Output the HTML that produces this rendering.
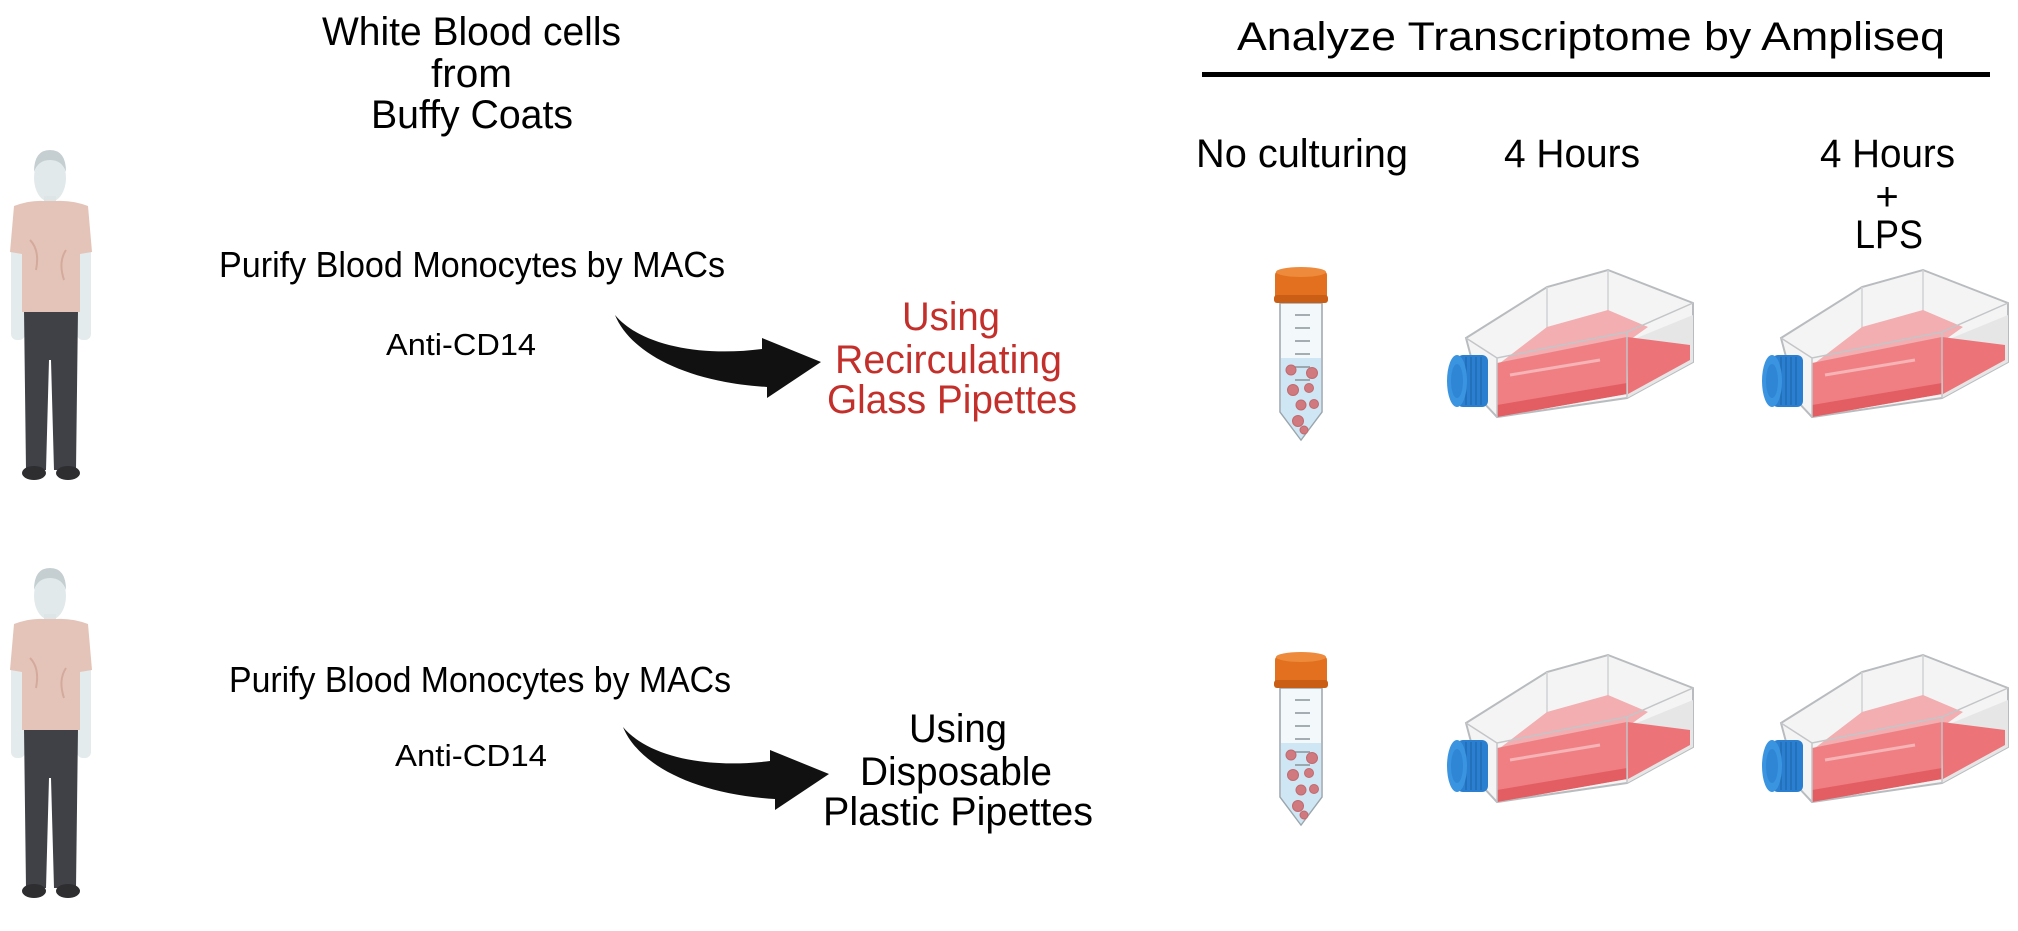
<!DOCTYPE html>
<html><head><meta charset="utf-8"><style>
html,body{margin:0;padding:0;background:#fff;}
svg{display:block;}
text{font-family:"Liberation Sans",sans-serif;}
</style></head><body>
<svg width="2018" height="931" viewBox="0 0 2018 931" xmlns="http://www.w3.org/2000/svg">
<defs>
 <g id="person">
  <ellipse cx="50" cy="178" rx="16" ry="24" fill="#e2e9eb"/>
  <path d="M34,172 Q34,150 50,150 Q66,150 66,172 Q62,160 50,160 Q38,160 34,172Z" fill="#c5cfd2"/>
  <rect x="44" y="196" width="12" height="10" fill="#dde5e7"/>
  <rect x="11" y="240" width="14" height="100" rx="6" fill="#e4ebed"/>
  <rect x="77" y="240" width="14" height="100" rx="6" fill="#e4ebed"/>
  <path d="M24,310 L78,310 L76,470 L54,470 L51,360 L49,360 L46,470 L26,470Z" fill="#3f4147"/>
  <path d="M14,206 Q30,200 44,201 L56,201 Q72,200 88,206 L92,252 L80,254 L80,312 L22,312 L22,254 L10,252Z" fill="#e4c4b8"/>
  <path d="M30,240 Q40,250 36,270 M66,250 Q58,262 64,280" stroke="#d4aa9c" stroke-width="2" fill="none"/>
  <ellipse cx="34" cy="473" rx="12" ry="7" fill="#2e2e30"/>
  <ellipse cx="68" cy="473" rx="12" ry="7" fill="#2e2e30"/>
 </g>
 <g id="tube">
  <path d="M1280,688 L1322,688 L1322,797 L1301,825 L1280,797Z" fill="#f3f8fb" stroke="#9aa6ad" stroke-width="1.5"/>
  <path d="M1281,743 L1321,743 L1321,797 L1301,824 L1281,797Z" fill="#cfe6f4"/>
  <g stroke="#8a949a" stroke-width="1.5">
   <line x1="1295" y1="700" x2="1310" y2="700"/><line x1="1295" y1="713" x2="1310" y2="713"/>
   <line x1="1295" y1="726" x2="1310" y2="726"/><line x1="1295" y1="739" x2="1310" y2="739"/>
   <line x1="1295" y1="752" x2="1310" y2="752"/><line x1="1295" y1="765" x2="1310" y2="765"/>
  </g>
  <g fill="#d07a80" stroke="#c06a70" stroke-width="1">
   <circle cx="1291" cy="755" r="5"/><circle cx="1312" cy="758" r="5.5"/>
   <circle cx="1293" cy="775" r="5.5"/><circle cx="1309" cy="773" r="4.5"/>
   <circle cx="1301" cy="790" r="5"/><circle cx="1314" cy="789" r="4.5"/>
   <circle cx="1298" cy="806" r="5.5"/><circle cx="1304" cy="815" r="4"/>
  </g>
  <rect x="1275" y="656" width="52" height="32" rx="4" fill="#e2701e"/>
  <ellipse cx="1301" cy="657" rx="25" ry="5" fill="#ee8a3c"/>
  <rect x="1274" y="680" width="54" height="8" rx="3" fill="#c95e14"/>
 </g>
 <g id="flask">
  <path d="M1466,723 L1547,672 L1608,655 L1693,688 L1693,747 L1627,783 L1497,802 L1483,787Z" fill="#f4f4f4" stroke="#b9bcbf" stroke-width="2"/>
  <path d="M1547,672 L1547,717 M1608,655 L1608,698" stroke="#cfd1d3" stroke-width="1.5" fill="none"/>
  <path d="M1627,727 L1693,700 L1693,747 L1627,783Z" fill="#e6e6e6"/>
  <path d="M1500,748 L1547,712 L1608,695 L1648,712 L1627,727Z" fill="#f2aeb0"/>
  <path d="M1627,722 L1690,730 L1690,745 L1628,779Z" fill="#ec7377"/>
  <path d="M1497,748 L1627,722 L1627,779 L1497,802Z" fill="#ef7f83"/>
  <path d="M1497,790 L1627,768 L1627,779 L1497,802Z" fill="#e35e63"/>
  <path d="M1510,760 L1600,745" stroke="#f6b4b6" stroke-width="3"/>
  <path d="M1466,723 L1497,743 L1627,717 L1693,688 M1627,717 L1627,783 M1497,743 L1497,802" stroke="#c3c5c8" stroke-width="1.5" fill="none"/>
  <rect x="1457" y="740" width="31" height="52" rx="6" fill="#2a7fd0"/>
  <g stroke="#1f66ad" stroke-width="1.2">
   <line x1="1466" y1="742" x2="1466" y2="790"/><line x1="1471" y1="742" x2="1471" y2="790"/>
   <line x1="1476" y1="742" x2="1476" y2="790"/><line x1="1481" y1="742" x2="1481" y2="790"/>
  </g>
  <ellipse cx="1457" cy="766" rx="10" ry="26" fill="#3a94e0"/>
  <ellipse cx="1457" cy="766" rx="6" ry="17" fill="#2f86d4"/>
 </g>
 <path id="arrow" d="M615,315 C630,352 685,382 767,387 L767,398 L821,362 L762,338 L762,349 C700,357 640,345 615,315Z" fill="#111"/>
</defs>

<use href="#person"/>
<use href="#person" transform="translate(0,418)"/>

<g font-size="40" fill="#000">
 <text x="322" y="45" textLength="299" lengthAdjust="spacingAndGlyphs">White Blood cells</text>
 <text x="431" y="87" textLength="81" lengthAdjust="spacingAndGlyphs">from</text>
 <text x="371" y="128" textLength="202" lengthAdjust="spacingAndGlyphs">Buffy Coats</text>
</g>
<g font-size="36" fill="#000">
 <text x="219" y="277" textLength="506" lengthAdjust="spacingAndGlyphs">Purify Blood Monocytes by MACs</text>
 <text x="229" y="692" textLength="502" lengthAdjust="spacingAndGlyphs">Purify Blood Monocytes by MACs</text>
</g>
<g font-size="31" fill="#000">
 <text x="386" y="355" textLength="150" lengthAdjust="spacingAndGlyphs">Anti-CD14</text>
 <text x="395" y="766" textLength="152" lengthAdjust="spacingAndGlyphs">Anti-CD14</text>
</g>

<use href="#arrow"/>
<use href="#arrow" transform="translate(8,412)"/>

<g font-size="40" fill="#c3302b">
 <text x="902" y="330" textLength="98" lengthAdjust="spacingAndGlyphs">Using</text>
 <text x="835" y="373" textLength="227" lengthAdjust="spacingAndGlyphs">Recirculating</text>
 <text x="827" y="413" textLength="250" lengthAdjust="spacingAndGlyphs">Glass Pipettes</text>
</g>
<g font-size="40" fill="#000">
 <text x="909" y="742" textLength="98" lengthAdjust="spacingAndGlyphs">Using</text>
 <text x="860" y="785" textLength="192" lengthAdjust="spacingAndGlyphs">Disposable</text>
 <text x="823" y="825" textLength="270" lengthAdjust="spacingAndGlyphs">Plastic Pipettes</text>
</g>

<text x="1237" y="50" font-size="40" textLength="708" lengthAdjust="spacingAndGlyphs">Analyze Transcriptome by Ampliseq</text>
<rect x="1202" y="72" width="788" height="5" fill="#000"/>
<g font-size="40" fill="#000">
 <text x="1196" y="167" textLength="212" lengthAdjust="spacingAndGlyphs">No culturing</text>
 <text x="1504" y="167" textLength="136" lengthAdjust="spacingAndGlyphs">4 Hours</text>
 <text x="1820" y="167" textLength="135" lengthAdjust="spacingAndGlyphs">4 Hours</text>
 <text x="1887" y="210" text-anchor="middle">+</text>
 <text x="1855" y="248" textLength="68" lengthAdjust="spacingAndGlyphs">LPS</text>
</g>

<use href="#tube" transform="translate(0,-385)"/>
<use href="#tube"/>
<use href="#flask" transform="translate(0,-385)"/>
<use href="#flask" transform="translate(315,-385)"/>
<use href="#flask"/>
<use href="#flask" transform="translate(315,0)"/>
</svg>
</body></html>
